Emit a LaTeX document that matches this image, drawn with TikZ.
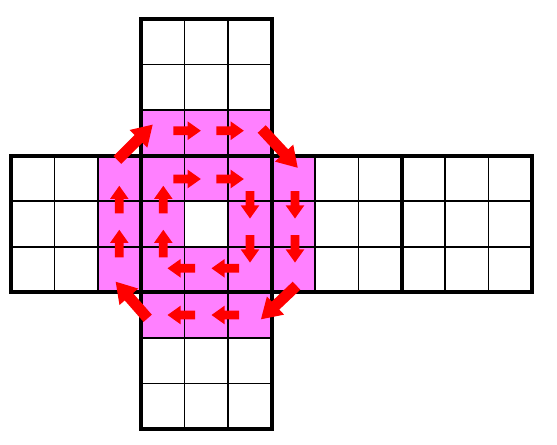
\documentclass[tikz,border=0pt]{standalone}
\definecolor{pinkc}{RGB}{255,128,255}
\definecolor{arrred}{RGB}{255,0,0}
\tikzset{
  gridline/.style={line width=1.1pt,line cap=rect},
  facebox/.style={line width=3pt,line join=miter},
  blockarrow/.style={fill=arrred,draw=none}
}
\newcommand\cw{43.417}
\newcommand\ch{45.556}
\newcommand\sarr[3]{\fill[blockarrow,shift={(#1,#2)},rotate=#3] (0,-4.4) -- (14.4,-4.4) -- (14.4,-9.3) -- (27.5,0) -- (14.4,9.3) -- (14.4,4.4) -- (0,4.4) -- cycle;}
\newcommand\barr[4]{\fill[blockarrow,shift={(#1,#2)},rotate=#3] (0,-5.5) -- ({#4-20},-5.5) -- ({#4-20},-12.5) -- (#4,0) -- ({#4-20},12.5) -- ({#4-20},5.5) -- (0,5.5) -- cycle;}
\begin{document}
\begin{tikzpicture}[x=0.75pt,y=-0.75pt]
\useasboundingbox (0,0) rectangle (557,444);
% pink cells
\foreach \c/\r in {3/2,4/2,5/2,2/3,3/3,4/3,5/3,6/3,2/4,3/4,5/4,6/4,2/5,3/5,4/5,5/5,6/5,3/6,4/6,5/6}
  \fill[pinkc] ({11+\c*\cw},{19+\r*\ch}) rectangle ({11+(\c+1)*\cw},{19+(\r+1)*\ch});
% thin grid lines
\foreach \c in {4,5} {
  \draw[gridline] ({11+\c*\cw},19) -- ({11+\c*\cw},{19+3*\ch});
  \draw[gridline] ({11+\c*\cw},{19+6*\ch}) -- ({11+\c*\cw},{19+9*\ch});
}
\foreach \r in {1,2,7,8}
  \draw[gridline] ({11+3*\cw},{19+\r*\ch}) -- ({11+6*\cw},{19+\r*\ch});
\foreach \c in {1,2,4,5,7,8,10,11}
  \draw[gridline] ({11+\c*\cw},{19+3*\ch}) -- ({11+\c*\cw},{19+6*\ch});
\foreach \r in {4,5}
  \draw[gridline] (11,{19+\r*\ch}) -- (532,{19+\r*\ch});
% thick face borders
\draw[facebox] ({11+3*\cw},19) rectangle ({11+6*\cw},{19+3*\ch});
\draw[facebox] ({11+3*\cw},{19+6*\ch}) rectangle ({11+6*\cw},{19+9*\ch});
\foreach \f in {0,1,2,3}
  \draw[facebox] ({11+3*\f*\cw},{19+3*\ch}) rectangle ({11+3*(\f+1)*\cw},{19+6*\ch});
% small arrows
\sarr{173.3}{130.7}{0}
\sarr{216.3}{130.7}{0}
\sarr{173.3}{179}{0}
\sarr{216.3}{179}{0}
\sarr{250}{191}{-90}
\sarr{250}{235}{-90}
\sarr{295}{191}{-90}
\sarr{295}{235}{-90}
\sarr{195}{268.3}{180}
\sarr{239}{268.3}{180}
\sarr{195}{315}{180}
\sarr{239}{315}{180}
\sarr{163.3}{213.3}{90}
\sarr{163.3}{257.3}{90}
\sarr{119.3}{213.3}{90}
\sarr{119.3}{257.3}{90}
% big diagonal arrows
\barr{117.3}{160}{45}{50}
\barr{261.7}{129}{-47.1}{52.9}
\barr{296.5}{285.7}{-136.6}{48.9}
\barr{147.7}{318.3}{131.2}{48.6}
\end{tikzpicture}
\end{document}
